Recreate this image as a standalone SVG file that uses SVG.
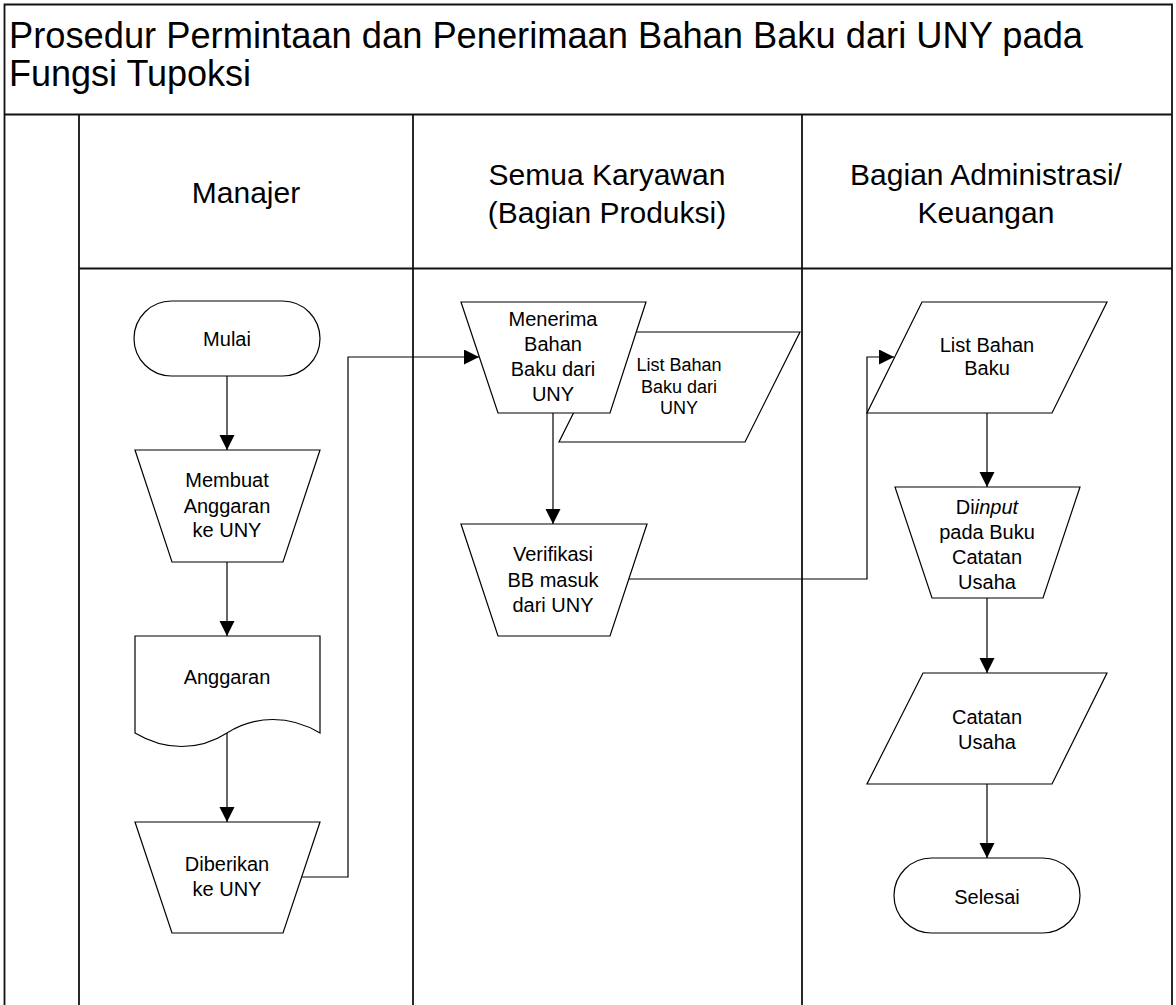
<svg xmlns="http://www.w3.org/2000/svg" width="1176" height="1005" viewBox="0 0 1176 1005">
<style>
  .frame { fill: none; stroke: #111; stroke-width: 1.8; }
  .shape { fill: #fff; stroke: #000; stroke-width: 1.2; }
  .conn { fill: none; stroke: #000; stroke-width: 1.2; }
  .t { font-family: "Liberation Sans", Arial, sans-serif; font-size: 20px; fill: #000; text-anchor: middle; }
  .ts { font-family: "Liberation Sans", Arial, sans-serif; font-size: 18px; fill: #000; text-anchor: middle; }
  .th { font-family: "Liberation Sans", Arial, sans-serif; font-size: 30px; fill: #000; text-anchor: middle; }
  .title { font-family: "Liberation Sans", Arial, sans-serif; font-size: 36px; fill: #000; }
</style>
<defs>
  <marker id="arrow" markerUnits="userSpaceOnUse" markerWidth="16" markerHeight="16" viewBox="0 0 16 16" refX="15" refY="7.5" orient="auto">
    <path d="M0,0 L15,7.5 L0,15 Z" fill="#000"/>
  </marker>
</defs>
<rect x="0" y="0" width="1176" height="1005" fill="#fff"/>

<g id="frame">
  <path class="frame" d="M4.5,1005 V4.5 H1172 V1005"/>
  <line class="frame" x1="4.5" y1="114.5" x2="1172" y2="114.5" stroke-width="2.5"/>
  <line class="frame" x1="79" y1="115" x2="79" y2="1005"/>
  <line class="frame" x1="413" y1="115" x2="413" y2="1005"/>
  <line class="frame" x1="802" y1="115" x2="802" y2="1005"/>
  <line class="frame" x1="79" y1="268.5" x2="1172" y2="268.5"/>
  <text class="title" x="9" y="48" textLength="1074" lengthAdjust="spacingAndGlyphs">Prosedur Permintaan dan Penerimaan Bahan Baku dari UNY pada</text>
  <text class="title" x="9" y="86">Fungsi Tupoksi</text>
  <text class="th" x="246" y="203">Manajer</text>
  <text class="th" x="607" y="185">Semua Karyawan</text>
  <text class="th" x="607" y="223">(Bagian Produksi)</text>
  <text class="th" x="986" y="185">Bagian Administrasi/</text>
  <text class="th" x="986" y="223">Keuangan</text>
</g>

<g id="connectors">
  <line class="conn" x1="227" y1="376" x2="227" y2="450" marker-end="url(#arrow)"/>
  <line class="conn" x1="227" y1="562" x2="227" y2="636" marker-end="url(#arrow)"/>
  <line class="conn" x1="227" y1="733" x2="227" y2="822" marker-end="url(#arrow)"/>
  <path class="conn" d="M302,877 H348 V357 H479" marker-end="url(#arrow)"/>
  <line class="conn" x1="553" y1="413" x2="553" y2="524" marker-end="url(#arrow)"/>
  <path class="conn" d="M629,579 H867 V357 H894" marker-end="url(#arrow)"/>
  <line class="conn" x1="987" y1="413" x2="987" y2="487" marker-end="url(#arrow)"/>
  <line class="conn" x1="987" y1="598" x2="987" y2="673" marker-end="url(#arrow)"/>
  <line class="conn" x1="987" y1="784" x2="987" y2="858" marker-end="url(#arrow)"/>
</g>

<g id="mulai">
  <rect class="shape" x="134" y="301" width="186" height="75" rx="37.5" ry="37.5"/>
  <text class="t" x="227" y="346">Mulai</text>
</g>
<g id="membuat-anggaran">
  <polygon class="shape" points="135,450 320,450 283,562 172,562"/>
  <text class="t" x="227" y="487">Membuat</text>
  <text class="t" x="227" y="513">Anggaran</text>
  <text class="t" x="227" y="537">ke UNY</text>
</g>
<g id="anggaran">
  <path class="shape" d="M135,636 H320 V733 C290,715 255,715 227,733 C199,751 165,751 135,733 Z"/>
  <text class="t" x="227" y="684">Anggaran</text>
</g>
<g id="diberikan">
  <polygon class="shape" points="135,822 320,822 283,933 172,933"/>
  <text class="t" x="227" y="871">Diberikan</text>
  <text class="t" x="227" y="896">ke UNY</text>
</g>
<g id="list-bahan-baku-uny">
  <polygon class="shape" points="614,332 800,332 745,442 559,442"/>
  <text class="ts" x="679" y="371">List Bahan</text>
  <text class="ts" x="679" y="393">Baku dari</text>
  <text class="ts" x="679" y="414">UNY</text>
</g>
<g id="menerima">
  <polygon class="shape" points="461,302 646,302 610,413 498,413"/>
  <text class="t" x="553" y="326">Menerima</text>
  <text class="t" x="553" y="351">Bahan</text>
  <text class="t" x="553" y="376">Baku dari</text>
  <text class="t" x="553" y="401">UNY</text>
</g>
<g id="verifikasi">
  <polygon class="shape" points="461,524 647,524 610,636 498,636"/>
  <text class="t" x="553" y="561">Verifikasi</text>
  <text class="t" x="553" y="587">BB masuk</text>
  <text class="t" x="553" y="612">dari UNY</text>
</g>
<g id="list-bahan-baku">
  <polygon class="shape" points="922,302 1107,302 1052,413 867,413"/>
  <text class="t" x="987" y="352">List Bahan</text>
  <text class="t" x="987" y="375">Baku</text>
</g>
<g id="diinput">
  <polygon class="shape" points="895,487 1080,487 1043,598 932,598"/>
  <text class="t" x="987" y="514">Di<tspan font-style="italic">input</tspan></text>
  <text class="t" x="987" y="539">pada Buku</text>
  <text class="t" x="987" y="564">Catatan</text>
  <text class="t" x="987" y="589">Usaha</text>
</g>
<g id="catatan-usaha">
  <polygon class="shape" points="923,673 1107,673 1052,784 867,784"/>
  <text class="t" x="987" y="724">Catatan</text>
  <text class="t" x="987" y="749">Usaha</text>
</g>
<g id="selesai">
  <rect class="shape" x="894" y="858" width="186" height="75" rx="37.5" ry="37.5"/>
  <text class="t" x="987" y="904">Selesai</text>
</g>
</svg>
